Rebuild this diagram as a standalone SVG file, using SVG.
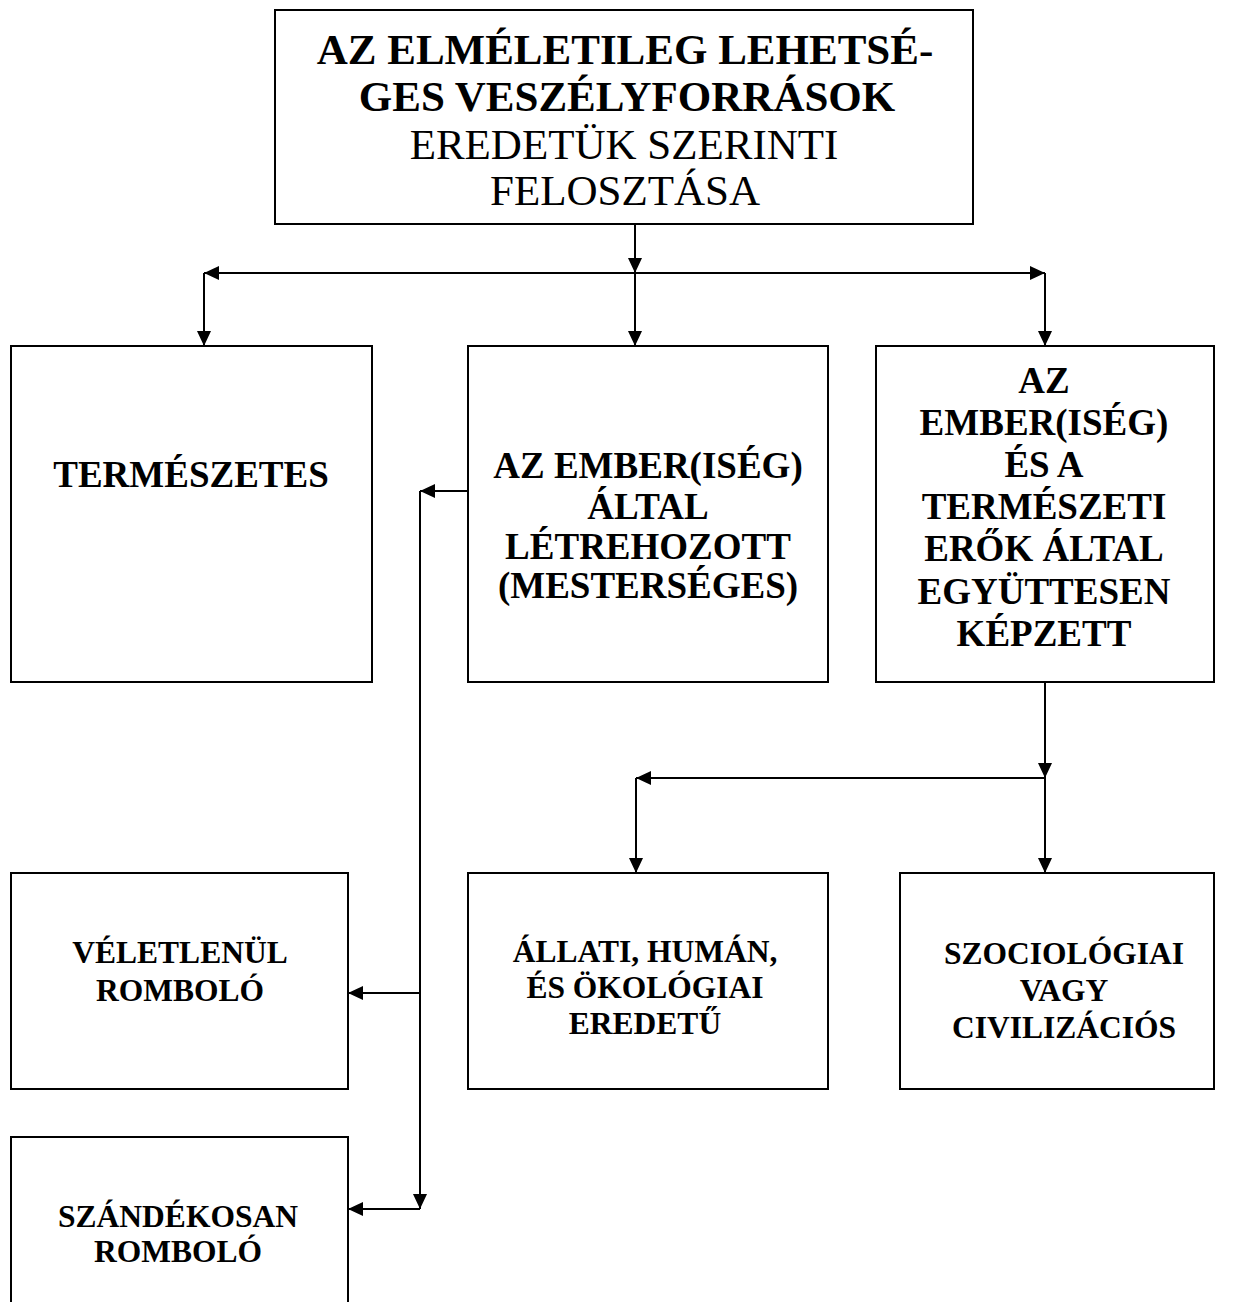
<svg xmlns="http://www.w3.org/2000/svg" width="1243" height="1302" viewBox="0 0 1243 1302">
<style>
.box{fill:#fff;stroke:#000;stroke-width:2}
.c{fill:none;stroke:#000;stroke-width:2}
text{font-family:"Liberation Serif","Times New Roman",serif;fill:#000;text-anchor:middle}
.b{font-weight:bold}
.t1{font-size:43px}
.t2{font-size:37px}
.t3{font-size:31.5px}
</style>
<defs>
<marker id="ah" markerWidth="15" markerHeight="14" refX="15" refY="7" orient="auto" markerUnits="userSpaceOnUse">
<path d="M0,0 L15,7 L0,14 Z" fill="#000"/>
</marker>
</defs>
<rect width="1243" height="1302" fill="#fff"/>
<g id="connectors">
<path class="c" d="M635,224 V273" marker-end="url(#ah)"/>
<path class="c" d="M635,273 H204" marker-end="url(#ah)"/>
<path class="c" d="M635,273 H1045" marker-end="url(#ah)"/>
<path class="c" d="M204,273 V346" marker-end="url(#ah)"/>
<path class="c" d="M635,273 V346" marker-end="url(#ah)"/>
<path class="c" d="M1045,273 V346" marker-end="url(#ah)"/>
<path class="c" d="M468,491 H420" marker-end="url(#ah)"/>
<path class="c" d="M420,491 V1209" marker-end="url(#ah)"/>
<path class="c" d="M420,993 H348" marker-end="url(#ah)"/>
<path class="c" d="M420,1209 H348" marker-end="url(#ah)"/>
<path class="c" d="M1045,682 V778" marker-end="url(#ah)"/>
<path class="c" d="M1045,778 H636" marker-end="url(#ah)"/>
<path class="c" d="M636,778 V873" marker-end="url(#ah)"/>
<path class="c" d="M1045,778 V873" marker-end="url(#ah)"/>
</g>
<g id="n-top">
<rect class="box" x="275" y="10" width="698" height="214"/>
<text class="t1 b" x="625" y="64">AZ ELMÉLETILEG LEHETSÉ-</text>
<text class="t1 b" x="627" y="111">GES VESZÉLYFORRÁSOK</text>
<text class="t1" x="624" y="159">EREDETÜK SZERINTI</text>
<text class="t1" x="625" y="205">FELOSZTÁSA</text>
</g>
<g id="n-termeszetes">
<rect class="box" x="11" y="346" width="361" height="336"/>
<text class="t2 b" x="191" y="487">TERMÉSZETES</text>
</g>
<g id="n-mesterseges">
<rect class="box" x="468" y="346" width="360" height="336"/>
<text class="t2 b" x="648" y="478">AZ EMBER(ISÉG)</text>
<text class="t2 b" x="648" y="519">ÁLTAL</text>
<text class="t2 b" x="648" y="559">LÉTREHOZOTT</text>
<text class="t2 b" x="648" y="598">(MESTERSÉGES)</text>
</g>
<g id="n-egyuttes">
<rect class="box" x="876" y="346" width="338" height="336"/>
<text class="t2 b" x="1044" y="393">AZ</text>
<text class="t2 b" x="1044" y="435">EMBER(ISÉG)</text>
<text class="t2 b" x="1044" y="477">ÉS A</text>
<text class="t2 b" x="1044" y="519">TERMÉSZETI</text>
<text class="t2 b" x="1044" y="561">ERŐK ÁLTAL</text>
<text class="t2 b" x="1044" y="604">EGYÜTTESEN</text>
<text class="t2 b" x="1044" y="646">KÉPZETT</text>
</g>
<g id="n-veletlen">
<rect class="box" x="11" y="873" width="337" height="216"/>
<text class="t3 b" x="180" y="963">VÉLETLENÜL</text>
<text class="t3 b" x="180" y="1001">ROMBOLÓ</text>
</g>
<g id="n-allati">
<rect class="box" x="468" y="873" width="360" height="216"/>
<text class="t3 b" x="645" y="962">ÁLLATI, HUMÁN,</text>
<text class="t3 b" x="645" y="998">ÉS ÖKOLÓGIAI</text>
<text class="t3 b" x="645" y="1034">EREDETŰ</text>
</g>
<g id="n-szociologiai">
<rect class="box" x="900" y="873" width="314" height="216"/>
<text class="t3 b" x="1064" y="964">SZOCIOLÓGIAI</text>
<text class="t3 b" x="1064" y="1001">VAGY</text>
<text class="t3 b" x="1064" y="1038">CIVILIZÁCIÓS</text>
</g>
<g id="n-szandekos">
<rect class="box" x="11" y="1137" width="337" height="200"/>
<text class="t3 b" x="178" y="1227">SZÁNDÉKOSAN</text>
<text class="t3 b" x="178" y="1262">ROMBOLÓ</text>
</g>
</svg>
